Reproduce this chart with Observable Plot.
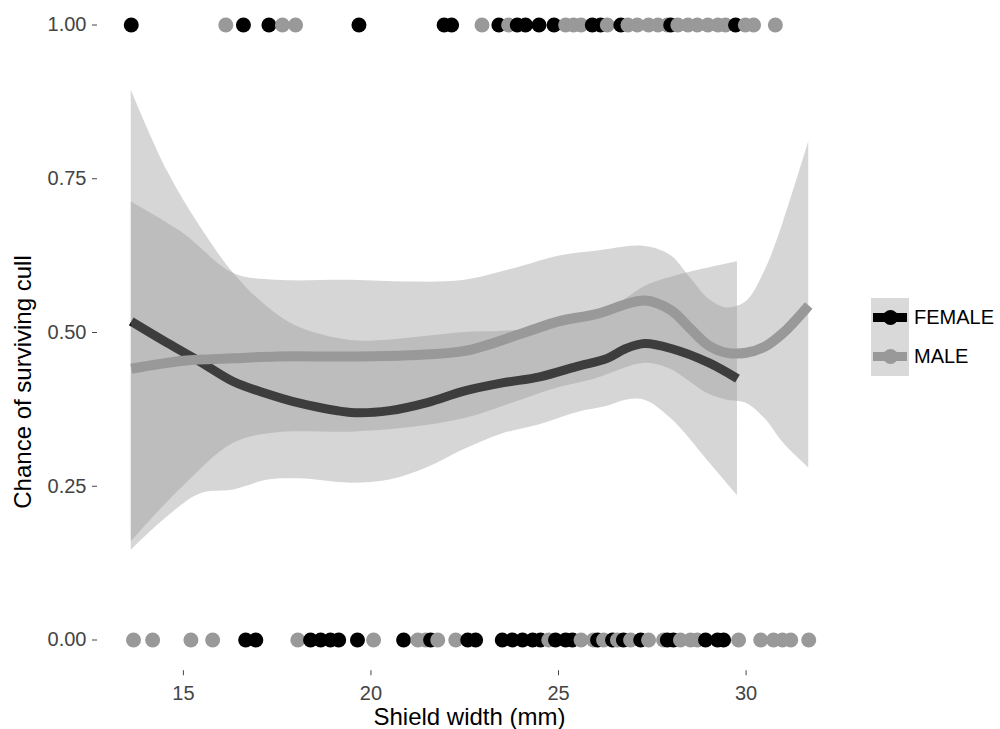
<!DOCTYPE html>
<html>
<head>
<meta charset="utf-8">
<script src="https://cdn.jsdelivr.net/npm/d3@7"></script>
<script src="https://cdn.jsdelivr.net/npm/@observablehq/plot@0.6"></script>
<style>
  html, body { margin: 0; padding: 0; background: #fff; }
  body { width: 1000px; height: 729px; position: relative; overflow: hidden; font-family: "Liberation Sans", Arial, sans-serif; }
  #chart { position: absolute; left: 0; top: 0; }
  .title { position: absolute; color: #000; font-size: 24px; white-space: nowrap; }
  #legend { position: absolute; left: 871px; top: 298px; }
  .key { position: absolute; left: 0; width: 38px; height: 39px; background: #d9d9d9; }
  .key .ln { position: absolute; left: 2px; width: 34px; height: 9px; top: 15px; }
  .key .pt { position: absolute; left: 12px; top: 12px; width: 15px; height: 15px; border-radius: 50%; }
  .lab { position: absolute; left: 43px; font-size: 20px; color: #000; white-space: nowrap; }
</style>
</head>
<body>
<div id="chart"></div>
<div class="title" id="xtitle">Shield width (mm)</div>
<div class="title" id="ytitle">Chance of surviving cull</div>
<div id="legend"></div>
<script>
// ---- data ----
const sexes = ["FEMALE", "MALE"];
const sexColors = ["#000000", "#999999"];

// shield widths of animals that survived (y = 1)
const femaleSurvived = [13.61, 16.60, 17.28, 19.68, 21.95, 22.15, 23.41, 23.90, 24.12, 24.48, 24.88, 25.90, 26.12, 26.66, 27.99, 29.72];
const maleSurvived = [16.13, 17.64, 17.99, 22.96, 23.67, 25.19, 25.40, 25.60, 26.30, 26.85, 27.10, 27.40, 27.65, 27.90, 28.18, 28.45, 28.70, 28.98, 29.25, 29.45, 29.98, 30.20, 30.78];
// shield widths of animals that were culled (y = 0)
const femaleCulled = [16.66, 16.93, 18.39, 18.66, 18.92, 19.14, 19.64, 20.87, 21.59, 22.58, 22.79, 23.50, 23.77, 24.04, 24.31, 24.52, 24.92, 25.19, 25.37, 26.04, 26.44, 26.73, 27.19, 27.90, 28.06, 28.92, 29.24, 29.40];
const maleCulled = [13.67, 14.18, 15.20, 15.78, 18.05, 20.07, 21.25, 21.46, 21.78, 22.26, 24.74, 25.60, 25.93, 26.20, 26.57, 26.92, 27.40, 27.80, 28.25, 28.52, 28.70, 29.80, 30.39, 30.73, 30.97, 31.19, 31.67];

// smoothed fit and confidence band
const femaleX   = [13.61, 14.57, 15.46, 16.34, 17.25, 18.10, 19.46, 20.50, 21.50, 22.50, 23.50, 24.50, 25.50, 26.30, 26.80, 27.30, 28.00, 29.00, 29.77];
const femaleFit = [0.518, 0.483, 0.452, 0.420, 0.400, 0.385, 0.370, 0.373, 0.386, 0.405, 0.418, 0.428, 0.445, 0.458, 0.474, 0.482, 0.474, 0.451, 0.425];
const femaleLo  = [0.146, 0.200, 0.238, 0.244, 0.260, 0.262, 0.255, 0.260, 0.280, 0.310, 0.335, 0.350, 0.370, 0.380, 0.390, 0.390, 0.360, 0.290, 0.235];
const femaleHi  = [0.894, 0.763, 0.671, 0.596, 0.541, 0.508, 0.487, 0.488, 0.494, 0.500, 0.502, 0.507, 0.520, 0.535, 0.555, 0.575, 0.590, 0.605, 0.615];

const maleX   = [13.61, 15.00, 16.34, 17.50, 19.46, 21.00, 22.50, 24.00, 25.00, 26.00, 27.30, 28.00, 28.50, 29.00, 29.50, 30.00, 30.50, 31.00, 31.67];
const maleFit = [0.441, 0.454, 0.458, 0.461, 0.461, 0.463, 0.470, 0.498, 0.518, 0.530, 0.552, 0.536, 0.507, 0.479, 0.467, 0.467, 0.477, 0.500, 0.544];
const maleLo  = [0.160, 0.250, 0.320, 0.337, 0.338, 0.345, 0.360, 0.390, 0.410, 0.425, 0.450, 0.440, 0.420, 0.400, 0.390, 0.385, 0.360, 0.320, 0.280];
const maleHi  = [0.712, 0.661, 0.596, 0.585, 0.585, 0.582, 0.585, 0.607, 0.624, 0.632, 0.640, 0.625, 0.590, 0.555, 0.540, 0.550, 0.600, 0.680, 0.810];

const xTicks = [15, 20, 25, 30];
const yTicks = [0, 0.25, 0.5, 0.75, 1];

// ---- build tables ----
const points = [
  ...femaleSurvived.map(x => ({x, y: 1, sex: "FEMALE"})),
  ...maleSurvived.map(x => ({x, y: 1, sex: "MALE"})),
  ...femaleCulled.map(x => ({x, y: 0, sex: "FEMALE"})),
  ...maleCulled.map(x => ({x, y: 0, sex: "MALE"}))
].sort((a, b) => a.x - b.x);

const femaleSmooth = femaleX.map((x, i) => ({x, fit: femaleFit[i], lo: femaleLo[i], hi: femaleHi[i]}));
const maleSmooth = maleX.map((x, i) => ({x, fit: maleFit[i], lo: maleLo[i], hi: maleHi[i]}));

const W = 1000, H = 729;
const marginLeft = 97, marginRight = 158, marginBottom = 58.75;

const chart = Plot.plot({
  width: W,
  height: H,
  marginLeft, marginRight, marginBottom, marginTop: 0,
  style: {fontFamily: "'Liberation Sans', Arial, sans-serif", background: "#fff", overflow: "visible"},
  x: {domain: [12.71, 32.57]},
  y: {domain: [-0.05, 1.05], range: [H - marginBottom, -6.25]},
  color: {domain: sexes, range: sexColors},
  marks: [
    Plot.axisX({ticks: xTicks, tickSize: 5, tickPadding: 10, fontSize: 20, color: "#444444", label: null}),
    Plot.axisY({ticks: yTicks, tickSize: 5, tickPadding: 6, fontSize: 20, color: "#444444", label: null, tickFormat: d3.format(".2f")}),
    Plot.dot(points, {x: "x", y: "y", fill: "sex", r: 7.5, stroke: null}),
    Plot.areaY(femaleSmooth, {x: "x", y1: "lo", y2: "hi", fill: "#999999", fillOpacity: 0.4, curve: "catmull-rom"}),
    Plot.line(femaleSmooth, {x: "x", y: "fit", stroke: sexColors[0], strokeWidth: 9, strokeLinecap: "butt", curve: "catmull-rom"}),
    Plot.areaY(maleSmooth, {x: "x", y1: "lo", y2: "hi", fill: "#999999", fillOpacity: 0.4, curve: "catmull-rom"}),
    Plot.line(maleSmooth, {x: "x", y: "fit", stroke: sexColors[1], strokeWidth: 10, strokeLinecap: "butt", curve: "catmull-rom"})
  ]
});
document.getElementById("chart").appendChild(chart);

// ---- titles ----
const panelCx = (marginLeft + (W - marginRight)) / 2;
const xt = document.getElementById("xtitle");
xt.style.left = panelCx + "px";
xt.style.top = "717px";
xt.style.transform = "translate(-50%, -50%)";
const yt = document.getElementById("ytitle");
yt.style.left = "23px";
yt.style.top = "382px";
yt.style.transform = "translate(-50%, -50%) rotate(-90deg)";

// ---- legend ----
const legend = document.getElementById("legend");
sexes.forEach((s, i) => {
  const key = document.createElement("div");
  key.className = "key";
  key.style.top = (i * 39) + "px";
  const ln = document.createElement("div");
  ln.className = "ln";
  ln.style.background = sexColors[i];
  key.appendChild(ln);
  const pt = document.createElement("div");
  pt.className = "pt";
  pt.style.background = sexColors[i];
  key.appendChild(pt);
  legend.appendChild(key);
  const lab = document.createElement("div");
  lab.className = "lab";
  lab.style.top = (i * 39 + 19) + "px";
  lab.style.transform = "translateY(-50%)";
  lab.textContent = s;
  legend.appendChild(lab);
});
</script>
</body>
</html>
